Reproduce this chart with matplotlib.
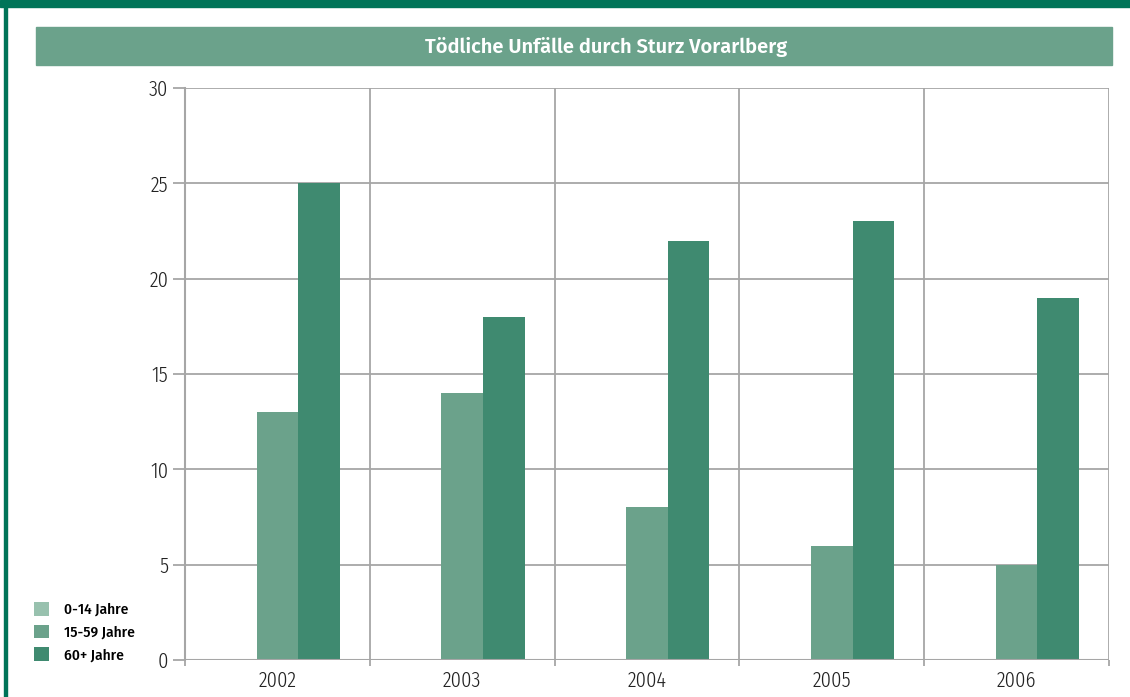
"""Tödliche Unfälle durch Sturz Vorarlberg - grouped bars by age group."""
import matplotlib
matplotlib.use("Agg")
import matplotlib.pyplot as plt
import numpy as np
from matplotlib.patches import Rectangle

years = ["2002", "2003", "2004", "2005", "2006"]
age_groups = ["0-14 Jahre", "15-59 Jahre", "60+ Jahre"]
vals_0_14 = [0, 0, 0, 0, 0]
vals_15_59 = [13, 14, 8, 6, 5]
vals_60_plus = [25, 18, 22, 23, 19]
y_ticks = [0, 5, 10, 15, 20, 25, 30]

colors = ["#98c1ae", "#6ba28b", "#3f8a70"]
GRID = "#a6a6a6"
DARK = "#007458"
TICK_FONT = ["Fira Sans Extra Condensed", "DejaVu Sans"]
LABEL_FONT = ["Fira Sans Condensed", "DejaVu Sans"]
TITLE_FONT = ["Fira Sans", "DejaVu Sans"]

plt.rcParams["font.family"] = LABEL_FONT

W, H = 1130, 697
fig = plt.figure(figsize=(W / 100, H / 100), dpi=100)

# frame: top band + left border
fig.patches.append(Rectangle((0, 1 - 7 / H), 1, 7 / H, transform=fig.transFigure,
                             color=DARK, zorder=0))
fig.patches.append(Rectangle((4 / W, 0), 2.5 / W, 1, transform=fig.transFigure,
                             color=DARK, zorder=0))
# title bar
fig.patches.append(Rectangle((36 / W, 1 - 65 / H), (1112 - 36) / W, 38 / H,
                             transform=fig.transFigure, color="#6ba28b", zorder=0))
fig.text(606 / W, 1 - 47 / H, "Tödliche Unfälle durch Sturz Vorarlberg",
         ha="center", va="center", color="white", fontsize=14.5, fontweight=600,
         family=TITLE_FONT)

ax = fig.add_axes([185 / W, 1 - 660 / H, (1109 - 185) / W, (660 - 88) / H])
x = np.arange(len(years))
bw = 0.225
for i, (series, c) in enumerate(zip([vals_0_14, vals_15_59, vals_60_plus], colors)):
    ax.bar(x + (i - 1) * bw, series, width=bw, color=c, label=age_groups[i], zorder=3)

ax.set_xlim(-0.5, len(years) - 0.5)
ax.set_ylim(0, 30)
ax.set_yticks(y_ticks)
ax.set_yticklabels([str(t) for t in y_ticks])
ax.set_xticks(x)
ax.set_xticklabels(years)
ax.set_xticks(np.arange(len(years) + 1) - 0.5, minor=True)
for lab in ax.get_xticklabels() + ax.get_yticklabels():
    lab.set_family(TICK_FONT)
    lab.set_fontweight(300)
    lab.set_color("#222222")
for s in ax.spines.values():
    s.set_visible(False)
ax.spines["left"].set_visible(True)
ax.spines["left"].set_color(GRID)
ax.spines["left"].set_linewidth(1.5)
ax.grid(True, axis="y", color=GRID, linewidth=1.3, zorder=1)
ax.grid(True, axis="x", which="minor", color=GRID, linewidth=1.3, zorder=1)
ax.tick_params(axis="y", length=9, width=1.3, color=GRID, labelsize=16, pad=3)
ax.tick_params(axis="x", which="major", length=0, labelsize=16, pad=7)
ax.tick_params(axis="x", which="minor", length=4, width=1.3, color=GRID)
ax.axhline(0, color=GRID, linewidth=1.5, zorder=4)

handles, labels = ax.get_legend_handles_labels()
leg = fig.legend(handles, labels, loc="lower left", bbox_to_anchor=(20 / W, 1 - 676 / H),
                 frameon=False, handlelength=1.0, handleheight=1.0,
                 handletextpad=1.0, labelspacing=0.5,
                 prop={"family": LABEL_FONT, "weight": 500, "size": 11})

fig.savefig("out.png", dpi=100)
